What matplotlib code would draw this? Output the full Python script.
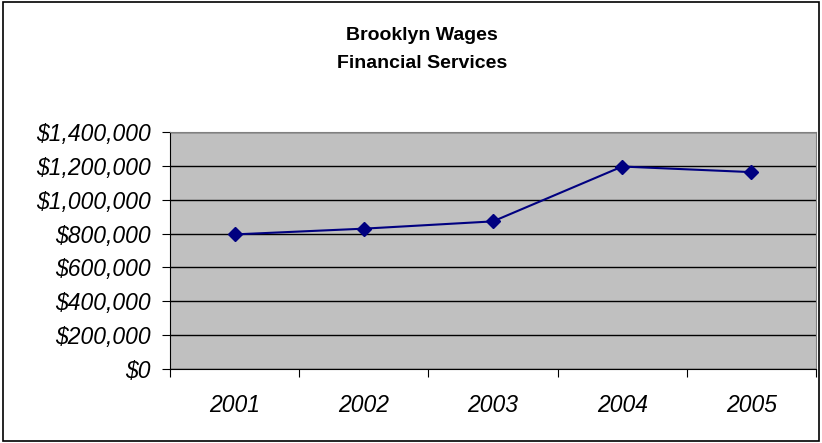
import matplotlib
matplotlib.use("Agg")
import matplotlib.pyplot as plt
from matplotlib.ticker import FuncFormatter, FixedLocator
from matplotlib.patches import Rectangle

years = ["2001", "2002", "2003", "2004", "2005"]
wages = [795000, 829000, 872000, 1196000, 1163000]
yticks = [0, 200000, 400000, 600000, 800000, 1000000, 1200000, 1400000]
title_lines = ["Brooklyn Wages", "Financial Services"]

plt.rcParams['font.family'] = ['Liberation Sans', 'DejaVu Sans']

fig = plt.figure(figsize=(8.22, 4.43), dpi=100)
fig.patches.append(Rectangle((0.004, 0.004), 0.992, 0.992, transform=fig.transFigure,
                             fill=False, edgecolor='black', linewidth=1.2))

ax = fig.add_axes([170/822, 1-369/443, (816-170)/822, (369-132)/443])
ax.set_facecolor('#C0C0C0')

x = list(range(len(years)))
ax.plot(x, wages, color='#000080', linewidth=1.5, marker='D', markersize=7,
        markerfacecolor='#000080', markeredgecolor='#000080', zorder=3)

ax.set_xlim(-0.5, len(years) - 0.5)
ax.set_ylim(0, 1400000)
ax.set_yticks(yticks)
ax.yaxis.set_major_formatter(FuncFormatter(lambda v, p: "$" + format(int(v), ",")))
ax.yaxis.grid(True, color='black', linewidth=1)
ax.set_axisbelow(True)

ax.xaxis.set_major_locator(FixedLocator([i - 0.5 for i in range(len(years) + 1)]))
ax.xaxis.set_minor_locator(FixedLocator(x))
ax.set_xticklabels([])
ax.set_xticklabels(years, minor=True)
ax.tick_params(axis='x', which='major', length=6, direction='out', color='black')
ax.tick_params(axis='x', which='minor', length=0, pad=18)
ax.tick_params(axis='y', length=6, direction='out', pad=8)

for lbl in ax.get_yticklabels() + ax.get_xticklabels(minor=True):
    lbl.set_fontsize(16.5)
    lbl.set_fontstyle('italic')

for s in ['top', 'right']:
    ax.spines[s].set_color('#808080')
for s in ['left', 'bottom']:
    ax.spines[s].set_color('black')

fig.text(422/822, 1-36/443, title_lines[0], ha='center', va='center', fontsize=14, fontweight='bold')
fig.text(422/822, 1-63/443, title_lines[1], ha='center', va='center', fontsize=14, fontweight='bold')

fig.savefig("out.png", dpi=100)
